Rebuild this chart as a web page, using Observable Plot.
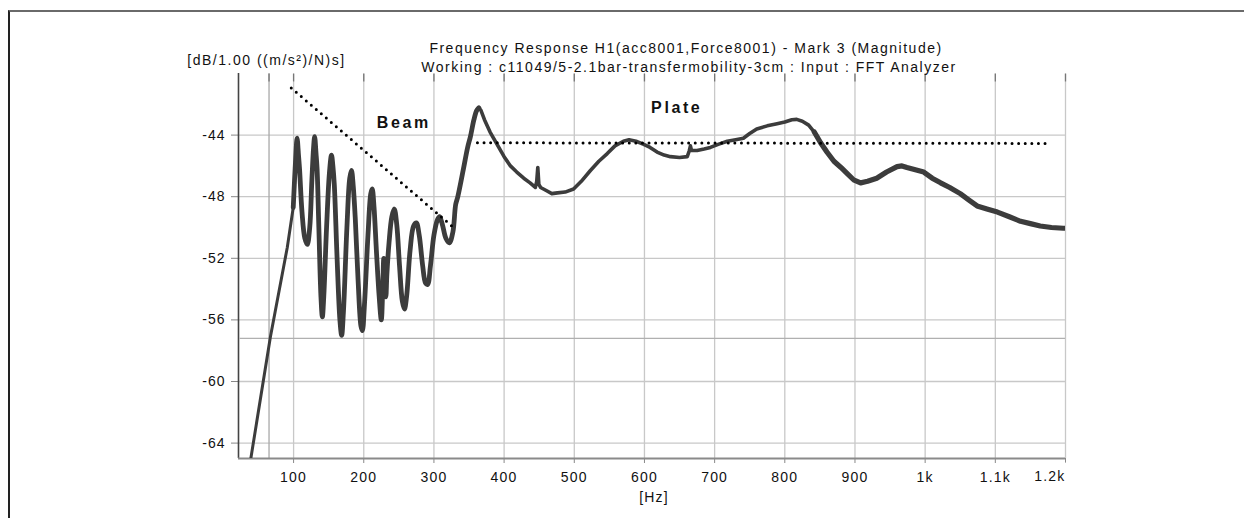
<!DOCTYPE html>
<html><head><meta charset="utf-8">
<script src="https://cdn.jsdelivr.net/npm/d3@7"></script>
<script src="https://cdn.jsdelivr.net/npm/@observablehq/plot@0.6"></script>
<style>
body{margin:0;background:#fff;}
#wrap{position:relative;width:1244px;height:518px;overflow:hidden;background:#fff;}
#frame{position:absolute;left:8px;top:10px;width:1400px;height:700px;border-top:2px solid #6a6a6a;border-left:2px solid #222;pointer-events:none;}
</style></head><body><div id="wrap"><div id="frame"></div></div>
<script>
// Measured curve: frequency (Hz) and magnitude (dB)
const freq = [38,67,91,99.5,103,105,107,108.5,112,116,119.5,123,126,128.5,130,132,133.5,136,139,141,143,147,151,154,156,158,162,166,168.5,171,176,180,182.5,185,188,192,196,198,201,206,210,212,214.5,218,222,225,227,228.5,230,231.5,233,236,240,243.5,247,251,255,258,261,266,271,275,279,284,288,291,295,300,305,308,312,317,322,327,331,334,342,348,352,357,361,364,367,372,380,390,400,409,418,428,437,444.5,446.5,448,449.5,452,460,468,476,487,499,510,523,535,547,558,570,578,588,599,608,618,628,637,650,661,664,665.5,667,675,685,694,705,718,730,741,750,760,775,789,800,810,817,825,834,842,851,860,870,880,889,898,908,918,931,945,960,967,974,986,998,1010,1022,1035,1050,1062,1074,1088,1103,1120,1136,1150,1164,1180,1197,1200];
const mag = [-65.3,-57.1,-51.3,-48.7,-45.5,-44.2,-45.3,-46.2,-49,-50.7,-51.1,-50,-47,-44.8,-44.1,-45.2,-46.2,-50,-54.5,-55.8,-54.5,-50,-46.5,-45.3,-46,-47.2,-52,-56,-57,-55.5,-50,-46.8,-46.3,-47.3,-49.5,-53.5,-56.4,-56.7,-55,-50.5,-47.8,-47.5,-48.6,-51.5,-54.5,-56,-54,-52,-53.5,-54.5,-53,-51,-49.3,-48.8,-49.8,-52.5,-54.8,-55.3,-54.5,-51.5,-49.9,-49.7,-50.5,-52.5,-53.6,-53.7,-52.5,-50.5,-49.5,-49.3,-49.8,-50.7,-51,-50.3,-48.5,-48,-46.2,-44.8,-44.1,-43,-42.4,-42.23,-42.4,-43,-43.8,-44.6,-45.4,-46,-46.4,-46.8,-47.1,-47.4,-47,-46.1,-47.2,-47.4,-47.6,-47.8,-47.75,-47.7,-47.5,-47,-46.3,-45.7,-45.2,-44.7,-44.4,-44.3,-44.4,-44.6,-44.8,-45.1,-45.3,-45.4,-45.45,-45.4,-45,-44.7,-45,-45,-44.9,-44.8,-44.6,-44.4,-44.3,-44.2,-43.9,-43.6,-43.4,-43.26,-43.15,-43,-42.98,-43.1,-43.35,-43.8,-44.5,-45.1,-45.7,-46.1,-46.5,-46.9,-47.1,-47,-46.8,-46.4,-46.05,-46,-46.1,-46.25,-46.4,-46.8,-47.1,-47.4,-47.8,-48.2,-48.6,-48.8,-49,-49.3,-49.6,-49.75,-49.9,-50,-50.05,-50.05];

// Dotted guide lines (endpoints in Hz / dB)
const beamGuideF = [96.7, 328];
const beamGuideDb = [-40.94, -50.0];
const plateGuideF = [362, 1174];
const plateGuideDb = [-44.5, -44.54];

// Annotations
const annoText = ["Beam", "Plate"];
const annoF = [257, 646];
const annoDb = [-43.2, -42.2];

// Axis ticks
const xTicks = [100,200,300,400,500,600,700,800,900,1000,1100,1200];
const xTickLabels = ["100","200","300","400","500","600","700","800","900","1k","1.1k","1.2k"];
const yTicks = [-64,-60,-56,-52,-48,-44];
const yTickLabels = ["-64","-60","-56","-52","-48","-44"];
const markFreq = [65];      // cursor line
const markLevel = [-57.2];  // cursor line

const titleLines = ["Frequency Response H1(acc8001,Force8001) - Mark 3 (Magnitude)",
                    "Working : c11049/5-2.1bar-transfermobility-3cm : Input : FFT Analyzer"];
const yUnit = "[dB/1.00 ((m/s\u00b2)/N)s]";
const xUnit = "[Hz]";

const rows = freq.map((f, i) => ({f, db: mag[i]}));
const seg = (a, b) => rows.filter(d => d.f >= a && d.f <= b);
const beamGuide = beamGuideF.map((f, i) => ({f, db: beamGuideDb[i]}));
const plateGuide = plateGuideF.map((f, i) => ({f, db: plateGuideDb[i]}));
const annos = annoText.map((t, i) => ({t, f: annoF[i], db: annoDb[i]}));
const labelOf = new Map(xTicks.map((t, i) => [t, xTickLabels[i]]));
const yLabelOf = new Map(yTicks.map((t, i) => [t, yTickLabels[i]]));

const FONT = "'Liberation Sans', Arial, sans-serif";
const curveColor = "#3c3c3c";

const chart = Plot.plot({
  width: 1244, height: 518,
  marginLeft: 238, marginRight: 179, marginTop: 73, marginBottom: 60,
  style: {fontFamily: FONT, fontSize: "14px", color: "#111", background: "transparent"},
  x: {domain: [21.5, 1200]},
  y: {domain: [-65, -40]},
  marks: [
    Plot.ruleY(yTicks, {stroke: "#c8c8c8", strokeWidth: 1.3}),
    Plot.ruleX(xTicks, {stroke: "#c8c8c8", strokeWidth: 1.3}),
    Plot.ruleY(markLevel, {x1: 24, x2: 1200, stroke: "#b0b0b0", strokeWidth: 1.3}),
    Plot.ruleX(markFreq, {stroke: "#a8a8a8", strokeWidth: 1.3}),
    Plot.ruleX(xTicks.concat(markFreq), {y1: -40.05, y2: -40.55, stroke: "#777", strokeWidth: 1.3}),
    Plot.axisY({ticks: yTicks, tickSize: 7, tickPadding: 6, stroke: "#888", fontSize: 14, label: null,
                tickFormat: d => yLabelOf.get(d)}),
    Plot.axisX({ticks: xTicks.slice(0, -1), tickSize: 5, tickPadding: 9, stroke: "#888", fontSize: 14, label: null,
                tickFormat: d => labelOf.get(d)}),
    Plot.text([xTicks[xTicks.length - 1]], {x: d => d, frameAnchor: "bottom", dy: 22, text: d => labelOf.get(d),
                textAnchor: "end", fontSize: 14, fill: "#111"}),
    Plot.ruleX([1200], {y1: -65, y2: -65.3, stroke: "#888", strokeWidth: 1}),
    Plot.ruleX([21.5], {stroke: "#444", strokeWidth: 1.6}),
    Plot.ruleY([-65], {stroke: "#8a8a8a", strokeWidth: 2}),
    Plot.line(seg(0, 100), {x: "f", y: "db", stroke: curveColor, strokeWidth: 3, clip: true}),
    Plot.line(seg(99.5, 364), {x: "f", y: "db", stroke: curveColor, strokeWidth: 4.8, strokeLinejoin: "round", curve: "catmull-rom", clip: true}),
    Plot.line(seg(361, 851), {x: "f", y: "db", stroke: curveColor, strokeWidth: 3.6, strokeLinejoin: "round", clip: true}),
    Plot.line(seg(842, 1200), {x: "f", y: "db", stroke: curveColor, strokeWidth: 5.2, strokeLinejoin: "round", clip: true}),
    Plot.line(beamGuide, {x: "f", y: "db", stroke: "#000", strokeWidth: 3, strokeDasharray: "0,6.6", strokeLinecap: "round"}),
    Plot.line(plateGuide, {x: "f", y: "db", stroke: "#000", strokeWidth: 3, strokeDasharray: "0,6.6", strokeLinecap: "round"}),
    Plot.text(annos, {x: "f", y: "db", text: "t", fontSize: 16, fontWeight: "bold", fill: "#111"}),
    Plot.text([titleLines[0]], {frameAnchor: "top", text: d => d, dx: 34, dy: -30, fontSize: 14, fill: "#111"}),
    Plot.text([titleLines[1]], {frameAnchor: "top", text: d => d, dx: 37, dy: -11, fontSize: 14, fill: "#111"}),
    Plot.text([yUnit], {frameAnchor: "top-left", text: d => d, dx: 28, dy: -18, textAnchor: "middle", fontSize: 14, fill: "#111"}),
    Plot.text([xUnit], {frameAnchor: "bottom", text: d => d, dx: 2, dy: 43, fontSize: 14, fill: "#111"})
  ]
});

d3.select(chart).selectAll("text").filter(function(){ return annoText.includes(this.textContent); })
  .attr("letter-spacing", "2.6");
d3.select(chart).selectAll("text").filter(function(){ return titleLines.includes(this.textContent) || this.textContent === yUnit; })
  .attr("letter-spacing", "1.5");
d3.select(chart).selectAll("text").filter(function(){ return xTickLabels.includes(this.textContent) || this.textContent === xUnit; })
  .attr("letter-spacing", "1.2");
d3.select(chart).selectAll("text").filter(function(){ return yTickLabels.includes(this.textContent); })
  .attr("letter-spacing", "1");

const wrap = document.getElementById("wrap");
wrap.insertBefore(chart, wrap.firstChild);
</script>
</body></html>
